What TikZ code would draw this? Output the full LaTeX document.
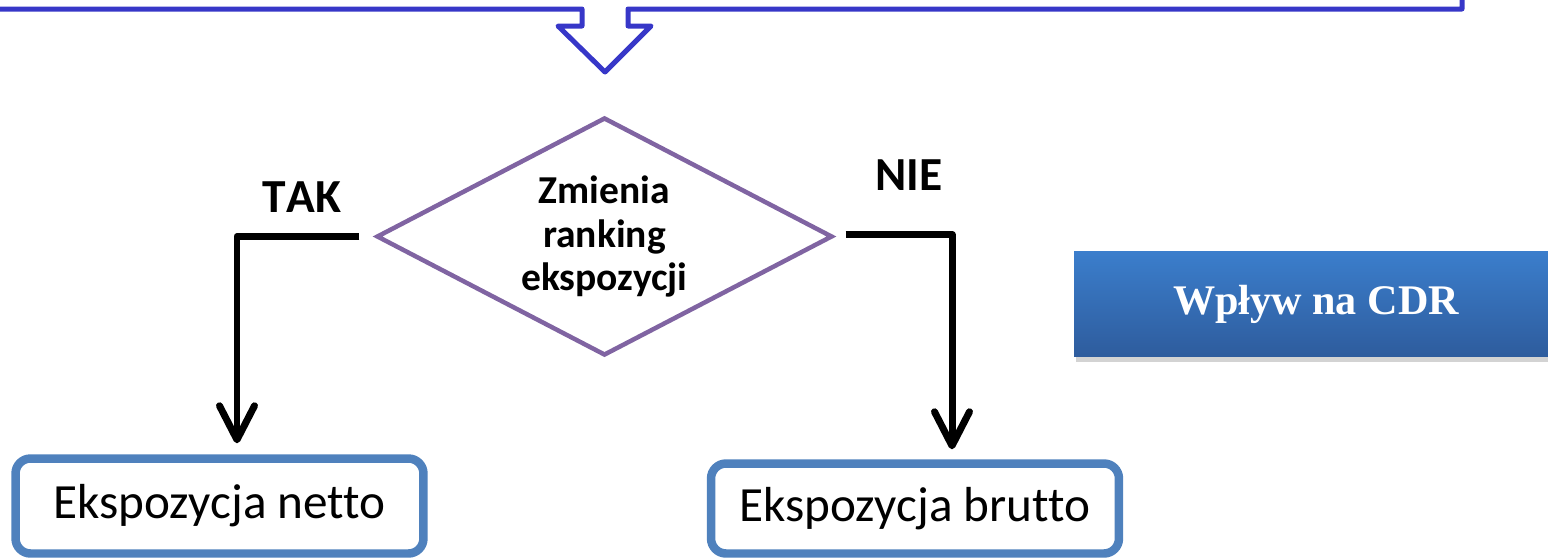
\documentclass[tikz,border=0pt]{standalone}
\usepackage{fontspec}
\setmainfont[Ligatures={NoCommon}]{Carlito}
\newfontfamily\timesfont{Liberation Serif}
\usetikzlibrary{shapes.geometric,arrows.meta,shadows}

\definecolor{bracketblue}{RGB}{55,55,200}
\definecolor{decisionpurple}{RGB}{128,100,162}
\definecolor{boxblue}{RGB}{79,129,189}
\definecolor{cdrtop}{RGB}{59,126,204}
\definecolor{cdrbottom}{RGB}{46,92,157}

\tikzset{
  decision/.style={diamond, aspect=1.92, draw=decisionpurple, line width=0.09cm, inner sep=0pt,
    minimum width=9.12cm, minimum height=4.76cm, align=center,
    font=\fontsize{22.5}{24.5}\selectfont\bfseries},
  resultbox/.style={draw=boxblue, line width=0.17cm, rounded corners=0.3cm,
    minimum width=8.16cm, minimum height=1.9cm, font=\fontsize{28}{32}\selectfont},
  flowarrow/.style={line width=0.14cm, line join=round,
    -{Straight Barb[length=0.68cm,width=0.7cm,round]}},
  answer/.style={font=\fontsize{27}{30}\selectfont\bfseries\addfontfeatures{Kerning=Off}}
}

\begin{document}
\begin{tikzpicture}[x=0.02cm, y=-0.02cm]
            \useasboundingbox (0,0) rectangle (1548,558);

            % bracket coming down from the box above
            \draw[bracketblue, line width=0.1cm, line join=round]
              (-5,9) -- (582,9) -- (582,26) -- (558,26) -- (605,72)
              -- (651,26) -- (628,26) -- (628,9) -- (1462,9) -- (1462,-5);

            \node[decision] (rank) at (604.5,236.5) {Zmienia\\ranking\\ekspozycji};

            \node[answer] (tak) at (302,197) {TAK};
            \node[answer] (nie) at (909,175) {NIE};

            \node[resultbox] (netto) at (219.5,506) {Ekspozycja netto};
            \node[resultbox, minimum height=1.8cm] (brutto) at (915,508.5) {Ekspozycja brutto};

            \draw[flowarrow, shorten >=0.22cm] ([xshift=-0.3cm]rank.west)
              -| ([xshift=0.35cm]netto.north);
            \draw[flowarrow, shorten >=0.2cm] ([xshift=0.22cm,yshift=0.04cm]rank.east)
              -| ([xshift=0.74cm]brutto.north);

            \node[minimum width=9.68cm, minimum height=2.12cm,
              top color=cdrtop, bottom color=cdrbottom,
              drop shadow={opacity=0.35, shadow xshift=0.04cm, shadow yshift=-0.1cm},
              text=white, font=\timesfont\fontsize{24}{28}\selectfont\bfseries]
              (cdr) at (1316,304) {Wpływ na CDR};
\end{tikzpicture}
\end{document}
